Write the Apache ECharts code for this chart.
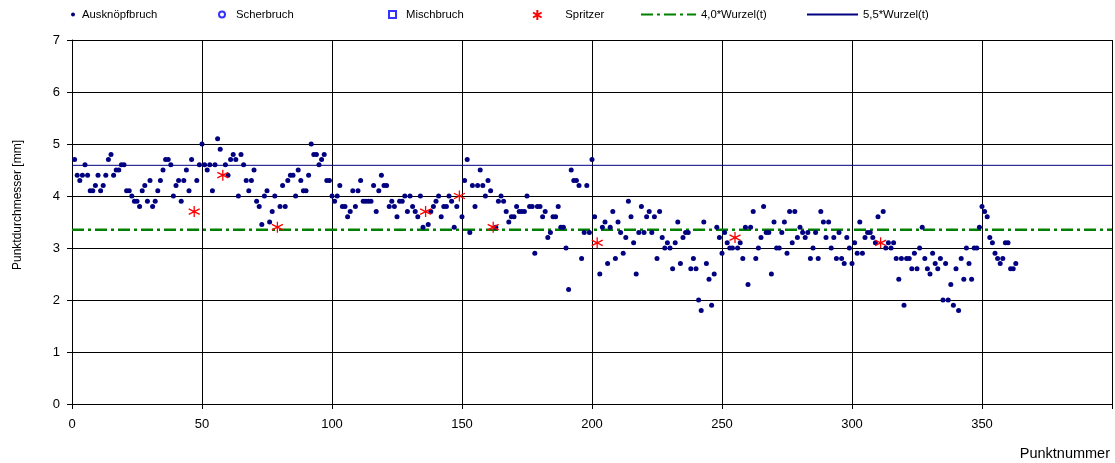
<!DOCTYPE html>
<html>
<head>
<meta charset="utf-8">
<script src="https://cdn.jsdelivr.net/npm/echarts@6/dist/echarts.min.js"></script>
<style>
html,body{margin:0;padding:0;background:#fff;}
#chart{width:1115px;height:463px;}
</style>
</head>
<body>
<div id="chart"></div>
<script>
// Punktnummer starts at 1; null = number used by a Spritzer point
const ausknoepfbruchY = [
4.7,4.4,4.3,4.4,4.6,4.4,4.1,4.1,4.2,4.4,
4.1,4.2,4.4,4.7,4.8,4.4,4.5,4.5,4.6,4.6,
4.1,4.1,4.0,3.9,3.9,3.8,4.1,4.2,3.9,4.3,
3.8,3.9,4.1,4.3,4.5,4.7,4.7,4.6,4.0,4.2,
4.3,3.9,4.3,4.5,4.1,4.7,null,4.3,4.6,5.0,
4.6,4.5,4.6,4.1,4.6,5.1,4.9,null,4.6,4.4,
4.7,4.8,4.7,4.0,4.8,4.6,4.3,4.1,4.3,4.5,
3.9,3.8,3.45,4.0,4.1,3.5,3.7,4.0,null,3.8,
4.2,3.8,4.3,4.4,4.4,4.0,4.5,4.3,4.1,4.1,
4.4,5.0,4.8,4.8,4.6,4.7,4.8,4.3,4.3,4.0,
3.9,4.0,4.2,3.8,3.8,3.6,3.7,4.1,3.8,4.1,
4.3,3.9,3.9,3.9,3.9,4.2,3.7,4.1,4.4,4.2,
4.2,3.8,3.9,3.8,3.6,3.9,3.9,4.0,3.7,4.0,
3.8,3.7,3.6,4.0,3.4,null,3.45,3.7,3.8,3.9,
4.0,3.6,3.8,3.8,4.0,3.9,3.4,3.8,null,3.6,
4.3,4.7,3.3,4.2,3.8,4.2,4.5,4.2,4.0,4.3,
4.1,null,3.4,3.9,4.0,3.9,3.7,3.5,3.6,3.6,
3.8,3.7,3.7,3.7,4.0,3.8,3.8,2.9,3.8,3.8,
3.6,3.7,3.2,3.3,3.6,3.6,3.8,3.4,3.4,3.0,
2.2,4.5,4.3,4.3,4.2,2.8,3.3,4.2,3.3,4.7,
3.6,null,2.5,3.4,3.5,2.7,3.4,3.7,2.8,3.5,
3.3,2.9,3.2,3.9,3.6,3.1,2.5,3.3,3.8,3.3,
3.6,3.7,3.3,3.6,2.8,3.7,3.2,3.0,3.1,3.0,
2.6,3.1,3.5,2.7,3.2,3.3,3.3,2.6,2.8,2.6,
2.0,1.8,3.5,2.7,2.4,1.9,2.5,3.4,3.2,2.9,
3.3,3.1,3.0,3.0,null,3.0,3.1,2.8,3.4,2.3,
3.4,3.7,2.8,3.0,3.2,3.8,3.3,3.3,2.5,3.5,
3.0,3.0,3.3,3.5,2.9,3.7,3.1,3.7,3.2,3.4,
3.3,3.2,3.3,2.8,3.0,3.3,2.8,3.7,3.5,3.2,
3.5,3.0,3.2,2.8,3.3,2.8,2.7,3.2,3.0,2.7,
3.1,2.9,3.5,2.9,3.2,3.3,3.3,3.2,3.1,3.6,
null,3.7,3.0,3.1,3.0,3.1,2.8,2.4,2.8,1.9,
2.8,2.8,2.6,2.9,2.6,3.0,3.4,2.8,2.6,2.5,
2.9,2.7,2.6,2.8,2.0,2.7,2.0,2.3,1.9,2.6,
1.8,2.8,2.4,3.0,2.7,2.4,3.0,3.0,3.4,3.8,
3.7,3.6,3.2,3.1,2.9,2.8,2.7,2.8,3.1,3.1,
2.6,2.6,2.7
];
const spritzerX = [47, 58, 79, 136, 149, 162, 202, 255, 311];
const spritzerY = [3.7, 4.4, 3.4, 3.7, 4.0, 3.4, 3.1, 3.2, 3.1];
const scherbruch = [];
const mischbruch = [];
const lineX = [0, 400];
const wurzel40 = 3.35;
const wurzel55 = 4.59;
const xTicks = [0, 50, 100, 150, 200, 250, 300, 350];

const ausData = [];
ausknoepfbruchY.forEach((v, i) => { if (v !== null) ausData.push([i + 1, v]); });
const sprData = spritzerX.map((x, i) => [x, spritzerY[i]]);

const FONT = "'Liberation Sans', Arial, sans-serif";
const starPath = 'path://M5,0L5,10M0.67,2.5L9.33,7.5M9.33,2.5L0.67,7.5';
const legendText = {fontFamily: FONT, fontSize: 11.3, color: '#000'};

function lg(name, left, w, h, extra, padLeft) {
  const ts = Object.assign({}, legendText);
  if (padLeft) ts.padding = [0, 0, 0, padLeft];
  return Object.assign({
    data: [name], left: left, top: 9, itemWidth: w, itemHeight: h,
    padding: 0, selectedMode: false, textStyle: ts
  }, extra || {});
}

const chart = echarts.init(document.getElementById('chart'), null, {renderer: 'canvas'});
chart.setOption({
  animation: false,
  backgroundColor: '#fff',
  grid: {left: 72, right: 3, top: 40, bottom: 59, containLabel: false},
  legend: [
    lg('Ausknöpfbruch', 71, 8, 4),
    lg('Scherbruch', 218, 14, 6, null, 2),
    lg('Mischbruch', 388, 7, 7, null, 5),
    lg('Spritzer', 532, 10, 10, null, 18),
    lg('4,0*Wurzel(t)', 640, 55, 4, {itemStyle: {opacity: 0}}),
    lg('5,5*Wurzel(t)', 806, 51, 4, {itemStyle: {opacity: 0}})
  ],
  xAxis: {
    type: 'value', min: 0, max: 400, interval: 50,
    name: 'Punktnummer', nameLocation: 'end', nameGap: 0,
    nameTextStyle: {fontFamily: FONT, fontSize: 14.5, color: '#000', align: 'right', verticalAlign: 'top', padding: [42, 2, 0, 0]},
    axisLine: {show: true, onZero: false, lineStyle: {color: '#000', width: 1}},
    axisTick: {show: true, inside: false, length: 5, lineStyle: {color: '#000'}},
    axisLabel: {fontFamily: FONT, fontSize: 13, color: '#000', margin: 14,
      formatter: v => (xTicks.indexOf(v) >= 0 ? String(v) : '')},
    splitLine: {show: true, lineStyle: {color: '#000', width: 1}}
  },
  yAxis: {
    type: 'value', min: 0, max: 7, interval: 1,
    name: 'Punktdurchmesser [mm]', nameLocation: 'middle', nameGap: 48,
    nameTextStyle: {fontFamily: FONT, fontSize: 12, color: '#000', padding: [0, 0, 0, 34]},
    axisLine: {show: true, lineStyle: {color: '#000', width: 1}},
    axisTick: {show: true, inside: false, length: 5, lineStyle: {color: '#000'}},
    axisLabel: {fontFamily: FONT, fontSize: 13, color: '#000', margin: 12},
    splitLine: {show: true, lineStyle: {color: '#000', width: 1}}
  },
  series: [
    {
      name: '4,0*Wurzel(t)', type: 'line', symbol: 'none', z: 2,
      data: lineX.map(x => [x, wurzel40]),
      lineStyle: {color: '#008000', width: 2.5, type: [12, 4, 3, 4]},
      itemStyle: {color: '#008000'}
    },
    {
      name: '5,5*Wurzel(t)', type: 'line', symbol: 'none', z: 2,
      data: lineX.map(x => [x, wurzel55]),
      lineStyle: {color: '#000080', width: 1},
      itemStyle: {color: '#000080'}
    },
    {
      name: 'Ausknöpfbruch', type: 'scatter', symbol: 'circle', symbolSize: 5, z: 3,
      data: ausData,
      itemStyle: {color: '#000080', opacity: 1}
    },
    {
      name: 'Scherbruch', type: 'scatter', symbol: 'circle', symbolSize: 6, z: 3,
      data: scherbruch,
      itemStyle: {color: '#fff', borderColor: '#0000ff', borderWidth: 1}
    },
    {
      name: 'Mischbruch', type: 'scatter', symbol: 'rect', symbolSize: 7, z: 3,
      data: mischbruch,
      itemStyle: {color: '#fff', borderColor: '#0000ff', borderWidth: 1}
    },
    {
      name: 'Spritzer', type: 'scatter', symbol: starPath, symbolSize: 11, z: 4,
      data: sprData,
      itemStyle: {color: '#ff0000', borderColor: '#ff0000', borderWidth: 1.3, opacity: 1}
    }
  ]
});
</script>
</body>
</html>
